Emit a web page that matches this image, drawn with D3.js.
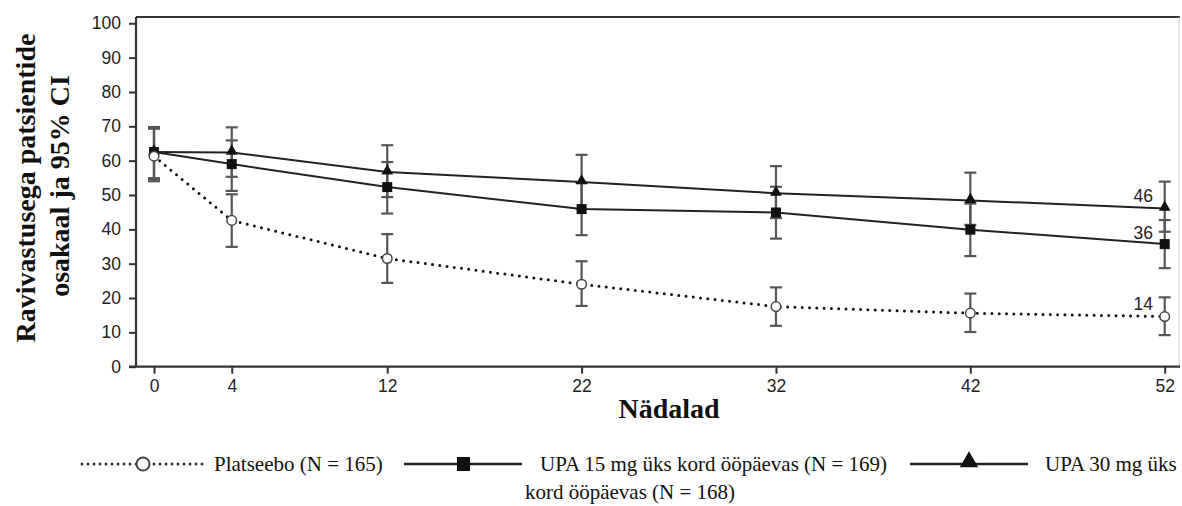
<!DOCTYPE html>
<html>
<head>
<meta charset="utf-8"/>
<title>Ravivastus</title>
<script src="https://d3js.org/d3.v7.min.js"></script>
<style>
  body { margin: 0; background: white; }
  svg { display: block; }
  .tick text { font-family: "Liberation Sans", Arial, sans-serif; font-size: 17.5px; fill: #222; }
  .tick line { stroke: #333; stroke-width: 2; }
  .ttl { font-family: "Liberation Serif", "Times New Roman", serif; font-weight: bold; font-size: 28px; fill: #111; }
  .leg { font-family: "Liberation Serif", "Times New Roman", serif; font-size: 21px; fill: #111; }
  .endlab { font-family: "Liberation Sans", Arial, sans-serif; font-size: 17.5px; fill: #222; }
</style>
</head>
<body>
<svg id="chart" width="1182" height="506"></svg>
<script>
// weeks on the x axis
var weeks = [0, 4, 12, 22, 32, 42, 52];
var yTicks = [0, 10, 20, 30, 40, 50, 60, 70, 80, 90, 100];

// placebo
var placeboMean = [61.3, 42.6, 31.5, 24.0, 17.5, 15.6, 14.6];
var placeboLo   = [54.0, 34.9, 24.4, 17.7, 11.9, 10.1, 9.2];
var placeboHi   = [69.3, 50.2, 38.6, 30.7, 23.1, 21.3, 20.2];

// UPA 15 mg
var upa15Mean = [62.5, 59.0, 52.3, 45.9, 44.9, 39.9, 35.7];
var upa15Lo   = [54.9, 51.2, 44.6, 38.3, 37.3, 32.2, 28.7];
var upa15Hi   = [69.6, 65.9, 59.6, 53.5, 52.4, 47.5, 42.7];

// UPA 30 mg
var upa30Mean = [62.5, 62.4, 56.7, 53.8, 50.5, 48.4, 46.1];
var upa30Lo   = [54.6, 55.3, 49.4, 46.0, 43.3, 41.3, 39.3];
var upa30Hi   = [69.8, 69.7, 64.5, 61.7, 58.4, 56.5, 53.9];

var endLabels = ["46", "36", "14"];
var legendLabels = ["Platseebo (N = 165)", "UPA 15 mg üks kord ööpäevas (N = 169)", "UPA 30 mg üks", "kord ööpäevas (N = 168)"];

var svg = d3.select("#chart");
var x = d3.scaleLinear([0, 52], [154, 1164.7]);
var y = d3.scaleLinear([0, 100], [366.7, 23.3]);
var top_ = 17, left = 136, right = 1180, bottom = y(0);

function rows(m, lo, hi) {
  return weeks.map((w, i) => ({w: w, m: m[i], lo: lo[i], hi: hi[i]}));
}
var series = [
  {name: "placebo", data: rows(placeboMean, placeboLo, placeboHi)},
  {name: "upa15", data: rows(upa15Mean, upa15Lo, upa15Hi)},
  {name: "upa30", data: rows(upa30Mean, upa30Lo, upa30Hi)}
];

// frame
svg.append("line").attr("x1", left).attr("x2", right).attr("y1", top_).attr("y2", top_)
  .attr("stroke", "#333").attr("stroke-width", 2.2);
svg.append("line").attr("x1", right - 1).attr("x2", right - 1).attr("y1", top_).attr("y2", bottom)
  .attr("stroke", "#ccc").attr("stroke-width", 1);

// axes
var gy = svg.append("g").attr("transform", "translate(" + left + ",0)")
  .call(d3.axisLeft(y).tickValues(yTicks).tickSize(7).tickPadding(8));
gy.select(".domain").remove();
svg.append("line").attr("x1", left).attr("x2", left).attr("y1", top_).attr("y2", bottom)
  .attr("stroke", "#333").attr("stroke-width", 2.2);

var gx = svg.append("g").attr("transform", "translate(0," + bottom + ")")
  .call(d3.axisBottom(x).tickValues(weeks).tickSize(7).tickPadding(6));
gx.select(".domain").remove();
svg.append("line").attr("x1", 129).attr("x2", right).attr("y1", bottom).attr("y2", bottom)
  .attr("stroke", "#333").attr("stroke-width", 2.2);

// titles
svg.append("text").attr("class", "ttl").attr("x", 669).attr("y", 418)
  .attr("text-anchor", "middle").text("Nädalad");
svg.append("text").attr("class", "ttl").attr("text-anchor", "middle")
  .attr("transform", "translate(35,188) rotate(-90)").text("Ravivastusega patsientide");
svg.append("text").attr("class", "ttl").attr("text-anchor", "middle")
  .attr("transform", "translate(69,186) rotate(-90)").text("osakaal ja 95% CI");

// error bars
var eb = svg.append("g").attr("stroke", "#555").attr("stroke-width", 2.2);
series.forEach(s => {
  s.data.forEach(d => {
    eb.append("line").attr("x1", x(d.w)).attr("x2", x(d.w)).attr("y1", y(d.lo)).attr("y2", y(d.hi));
    eb.append("line").attr("x1", x(d.w) - 6).attr("x2", x(d.w) + 6).attr("y1", y(d.lo)).attr("y2", y(d.lo));
    eb.append("line").attr("x1", x(d.w) - 6).attr("x2", x(d.w) + 6).attr("y1", y(d.hi)).attr("y2", y(d.hi));
  });
});

// lines
var line = d3.line().x(d => x(d.w)).y(d => y(d.m));
svg.append("path").datum(series[0].data).attr("d", line).attr("fill", "none")
  .attr("stroke", "#111").attr("stroke-width", 3).attr("stroke-linecap", "round")
  .attr("stroke-dasharray", "0,7.3");
svg.append("path").datum(series[1].data).attr("d", line).attr("fill", "none")
  .attr("stroke", "#222").attr("stroke-width", 2);
svg.append("path").datum(series[2].data).attr("d", line).attr("fill", "none")
  .attr("stroke", "#222").attr("stroke-width", 2);

// markers
var tri = d3.symbol().type(d3.symbolTriangle).size(60);
svg.append("g").selectAll("path").data(series[2].data).join("path")
  .attr("d", tri).attr("transform", d => "translate(" + x(d.w) + "," + (y(d.m) - 1) + ")").attr("fill", "#111");
svg.append("g").selectAll("rect").data(series[1].data).join("rect")
  .attr("x", d => x(d.w) - 5).attr("y", d => y(d.m) - 5).attr("width", 10).attr("height", 10).attr("fill", "#111");
svg.append("g").selectAll("circle").data(series[0].data).join("circle")
  .attr("cx", d => x(d.w)).attr("cy", d => y(d.m)).attr("r", 4.8)
  .attr("fill", "white").attr("stroke", "#444").attr("stroke-width", 1.5);

// end labels
var labY = [196, 233, 304];
endLabels.forEach((t, i) => {
  svg.append("text").attr("class", "endlab").attr("x", 1153).attr("y", labY[i] + 6)
    .attr("text-anchor", "end").text(t);
});

// legend
var lg = svg.append("g");
var ly = 464;
lg.append("line").attr("x1", 82).attr("x2", 205).attr("y1", ly).attr("y2", ly)
  .attr("stroke", "#333").attr("stroke-width", 3).attr("stroke-linecap", "round").attr("stroke-dasharray", "0,6");
lg.append("circle").attr("cx", 143).attr("cy", ly).attr("r", 6.5).attr("fill", "white")
  .attr("stroke", "#444").attr("stroke-width", 2);
lg.append("text").attr("class", "leg").attr("x", 214).attr("y", ly + 7).text(legendLabels[0]);

lg.append("line").attr("x1", 404).attr("x2", 522).attr("y1", ly).attr("y2", ly)
  .attr("stroke", "#222").attr("stroke-width", 2.5);
lg.append("rect").attr("x", 457).attr("y", ly - 7).attr("width", 13).attr("height", 14).attr("fill", "#111");
lg.append("text").attr("class", "leg").attr("x", 540).attr("y", ly + 7).text(legendLabels[1]);

lg.append("line").attr("x1", 910).attr("x2", 1028).attr("y1", ly).attr("y2", ly)
  .attr("stroke", "#222").attr("stroke-width", 2.5);
lg.append("path").attr("d", d3.symbol().type(d3.symbolTriangle).size(150))
  .attr("transform", "translate(969," + (ly - 2) + ")").attr("fill", "#111");
lg.append("text").attr("class", "leg").attr("x", 1045).attr("y", ly + 7).text(legendLabels[2]);
lg.append("text").attr("class", "leg").attr("x", 630).attr("y", ly + 35)
  .attr("text-anchor", "middle").text(legendLabels[3]);
</script>
</body>
</html>
